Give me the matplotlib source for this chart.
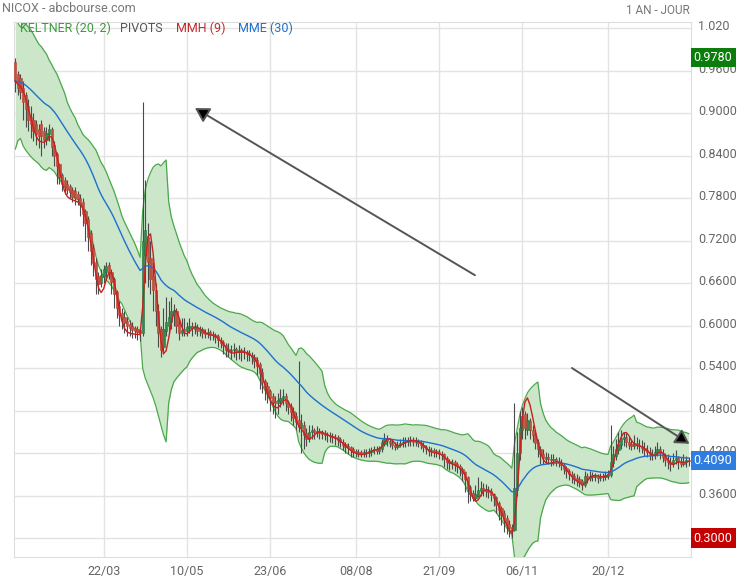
import numpy as np
import pandas as pd
import matplotlib
matplotlib.use("Agg")
import matplotlib.pyplot as plt
import matplotlib.transforms as mtransforms

plt.rcParams['font.family'] = ['Roboto', 'DejaVu Sans']

# daily candles, one year (bar index 0..259)
opens = [
    0.972, 0.955, 0.95, 0.935, 0.925, 0.91, 0.895, 0.89, 0.885, 0.878,
    0.885, 0.875, 0.862, 0.87, 0.878, 0.855, 0.842, 0.828, 0.812, 0.805,
    0.80, 0.797, 0.792, 0.79, 0.785, 0.78, 0.775, 0.762, 0.75, 0.73,
    0.71, 0.69, 0.67, 0.66, 0.668, 0.675, 0.685, 0.675, 0.665, 0.648,
    0.628, 0.618, 0.612, 0.606, 0.602, 0.60, 0.597, 0.595, 0.594, 0.59,
    0.70, 0.725, 0.695, 0.67, 0.65, 0.62, 0.595, 0.57, 0.592, 0.60,
    0.605, 0.615, 0.62, 0.602, 0.59, 0.595, 0.592, 0.596, 0.60, 0.595,
    0.598, 0.592, 0.595, 0.59, 0.588, 0.591, 0.588, 0.587, 0.585, 0.58,
    0.577, 0.573, 0.567, 0.564, 0.565, 0.567, 0.563, 0.565, 0.562, 0.563,
    0.561, 0.558, 0.556, 0.552, 0.545, 0.535, 0.522, 0.515, 0.507, 0.50,
    0.494, 0.49, 0.494, 0.497, 0.50, 0.49, 0.486, 0.48, 0.472, 0.466,
    0.455, 0.46, 0.448, 0.44, 0.45, 0.452, 0.449, 0.451, 0.449, 0.448,
    0.447, 0.445, 0.444, 0.443, 0.442, 0.44, 0.436, 0.433, 0.43, 0.428,
    0.425, 0.423, 0.422, 0.421, 0.419, 0.422, 0.42, 0.422, 0.424, 0.425,
    0.423, 0.426, 0.433, 0.44, 0.437, 0.434, 0.431, 0.429, 0.432, 0.434,
    0.436, 0.435, 0.437, 0.438, 0.435, 0.437, 0.434, 0.431, 0.428, 0.425,
    0.423, 0.424, 0.422, 0.421, 0.419, 0.418, 0.413, 0.409, 0.406, 0.408,
    0.405, 0.401, 0.398, 0.393, 0.386, 0.372, 0.364, 0.356, 0.36, 0.366,
    0.37, 0.368, 0.366, 0.366, 0.362, 0.358, 0.35, 0.342, 0.336, 0.328,
    0.32, 0.316, 0.312, 0.368, 0.42, 0.452, 0.475, 0.452, 0.465, 0.452,
    0.446, 0.435, 0.426, 0.419, 0.412, 0.415, 0.412, 0.41, 0.412, 0.409,
    0.408, 0.403, 0.399, 0.395, 0.39, 0.388, 0.385, 0.383, 0.38, 0.375,
    0.388, 0.385, 0.389, 0.386, 0.387, 0.385, 0.386, 0.386, 0.388, 0.389,
    0.406, 0.416, 0.424, 0.432, 0.44, 0.443, 0.436, 0.433, 0.43, 0.434,
    0.432, 0.43, 0.427, 0.424, 0.422, 0.419, 0.417, 0.421, 0.425, 0.42,
    0.416, 0.41, 0.408, 0.404, 0.41, 0.413, 0.407, 0.405, 0.408, 0.41,
]
highs = [
    0.978, 0.96, 0.955, 0.945, 0.93, 0.92, 0.91, 0.90, 0.89, 0.885,
    0.89, 0.88, 0.88, 0.885, 0.88, 0.86, 0.845, 0.83, 0.815, 0.81,
    0.805, 0.80, 0.795, 0.795, 0.79, 0.785, 0.78, 0.765, 0.755, 0.735,
    0.715, 0.695, 0.675, 0.68, 0.685, 0.69, 0.69, 0.68, 0.668, 0.65,
    0.635, 0.625, 0.62, 0.612, 0.608, 0.605, 0.60, 0.60, 0.598, 0.915,
    0.805, 0.745, 0.72, 0.69, 0.66, 0.63, 0.60, 0.625, 0.64, 0.635,
    0.64, 0.63, 0.625, 0.61, 0.61, 0.61, 0.605, 0.61, 0.605, 0.605,
    0.602, 0.60, 0.598, 0.595, 0.596, 0.594, 0.592, 0.59, 0.588, 0.584,
    0.58, 0.576, 0.575, 0.572, 0.575, 0.57, 0.572, 0.568, 0.57, 0.566,
    0.566, 0.562, 0.56, 0.555, 0.548, 0.54, 0.525, 0.52, 0.51, 0.505,
    0.50, 0.505, 0.51, 0.51, 0.505, 0.495, 0.49, 0.485, 0.478, 0.55,
    0.475, 0.465, 0.455, 0.46, 0.46, 0.455, 0.458, 0.455, 0.453, 0.452,
    0.45, 0.45, 0.448, 0.447, 0.445, 0.443, 0.44, 0.436, 0.434, 0.43,
    0.428, 0.426, 0.425, 0.424, 0.426, 0.425, 0.427, 0.428, 0.43, 0.43,
    0.43, 0.44, 0.448, 0.446, 0.44, 0.438, 0.436, 0.437, 0.44, 0.442,
    0.442, 0.443, 0.444, 0.442, 0.443, 0.44, 0.438, 0.435, 0.432, 0.43,
    0.428, 0.427, 0.426, 0.425, 0.423, 0.42, 0.416, 0.412, 0.412, 0.41,
    0.408, 0.404, 0.40, 0.395, 0.388, 0.375, 0.368, 0.375, 0.386, 0.38,
    0.378, 0.376, 0.374, 0.37, 0.364, 0.36, 0.352, 0.345, 0.34, 0.332,
    0.325, 0.32, 0.49, 0.45, 0.48, 0.485, 0.48, 0.476, 0.47, 0.46,
    0.45, 0.44, 0.43, 0.425, 0.422, 0.42, 0.418, 0.418, 0.415, 0.414,
    0.412, 0.406, 0.402, 0.398, 0.395, 0.392, 0.39, 0.388, 0.383, 0.395,
    0.392, 0.394, 0.393, 0.392, 0.39, 0.392, 0.392, 0.395, 0.396, 0.46,
    0.43, 0.44, 0.45, 0.452, 0.45, 0.448, 0.442, 0.44, 0.445, 0.442,
    0.44, 0.438, 0.435, 0.432, 0.428, 0.426, 0.43, 0.435, 0.43, 0.426,
    0.42, 0.418, 0.414, 0.42, 0.424, 0.416, 0.415, 0.418, 0.416, 0.414,
]
lows = [
    0.93, 0.925, 0.92, 0.89, 0.88, 0.875, 0.865, 0.86, 0.855, 0.85,
    0.84, 0.85, 0.855, 0.86, 0.84, 0.825, 0.80, 0.80, 0.79, 0.785,
    0.785, 0.78, 0.775, 0.77, 0.77, 0.755, 0.74, 0.72, 0.705, 0.685,
    0.67, 0.645, 0.645, 0.655, 0.66, 0.668, 0.665, 0.645, 0.625, 0.61,
    0.60, 0.595, 0.59, 0.585, 0.585, 0.583, 0.582, 0.58, 0.578, 0.585,
    0.66, 0.655, 0.645, 0.62, 0.60, 0.57, 0.555, 0.56, 0.585, 0.59,
    0.595, 0.60, 0.59, 0.58, 0.585, 0.585, 0.585, 0.59, 0.585, 0.588,
    0.585, 0.585, 0.582, 0.582, 0.583, 0.58, 0.58, 0.575, 0.57, 0.568,
    0.56, 0.556, 0.555, 0.553, 0.556, 0.552, 0.553, 0.55, 0.553, 0.55,
    0.55, 0.545, 0.54, 0.53, 0.51, 0.505, 0.495, 0.49, 0.48, 0.475,
    0.47, 0.475, 0.485, 0.488, 0.48, 0.475, 0.465, 0.46, 0.452, 0.45,
    0.42, 0.425, 0.43, 0.435, 0.44, 0.44, 0.442, 0.44, 0.44, 0.438,
    0.436, 0.435, 0.434, 0.432, 0.43, 0.428, 0.424, 0.42, 0.418, 0.415,
    0.415, 0.415, 0.414, 0.414, 0.415, 0.414, 0.415, 0.416, 0.418, 0.418,
    0.418, 0.422, 0.43, 0.43, 0.428, 0.425, 0.424, 0.425, 0.428, 0.428,
    0.428, 0.43, 0.43, 0.43, 0.43, 0.428, 0.425, 0.422, 0.418, 0.416,
    0.416, 0.415, 0.414, 0.412, 0.41, 0.40, 0.398, 0.396, 0.398, 0.395,
    0.392, 0.388, 0.38, 0.365, 0.35, 0.352, 0.352, 0.354, 0.358, 0.36,
    0.36, 0.358, 0.356, 0.352, 0.345, 0.335, 0.325, 0.318, 0.308, 0.305,
    0.302, 0.30, 0.31, 0.36, 0.41, 0.44, 0.44, 0.445, 0.44, 0.435,
    0.425, 0.415, 0.405, 0.405, 0.405, 0.404, 0.402, 0.403, 0.402, 0.40,
    0.396, 0.39, 0.385, 0.382, 0.378, 0.376, 0.374, 0.372, 0.368, 0.372,
    0.378, 0.38, 0.38, 0.38, 0.378, 0.38, 0.38, 0.382, 0.383, 0.386,
    0.40, 0.41, 0.418, 0.425, 0.43, 0.428, 0.425, 0.424, 0.426, 0.425,
    0.422, 0.42, 0.416, 0.414, 0.41, 0.41, 0.412, 0.416, 0.412, 0.408,
    0.402, 0.398, 0.395, 0.40, 0.405, 0.398, 0.40, 0.402, 0.40, 0.402,
]
closes = [
    0.945, 0.935, 0.93, 0.915, 0.905, 0.89, 0.885, 0.875, 0.87, 0.868,
    0.868, 0.862, 0.872, 0.878, 0.852, 0.84, 0.825, 0.81, 0.80, 0.795,
    0.792, 0.788, 0.782, 0.78, 0.778, 0.77, 0.758, 0.745, 0.725, 0.705,
    0.688, 0.665, 0.658, 0.672, 0.68, 0.684, 0.674, 0.662, 0.645, 0.625,
    0.615, 0.61, 0.604, 0.60, 0.597, 0.594, 0.592, 0.591, 0.59, 0.72,
    0.735, 0.69, 0.665, 0.65, 0.62, 0.59, 0.565, 0.595, 0.605, 0.612,
    0.62, 0.622, 0.60, 0.59, 0.594, 0.592, 0.598, 0.60, 0.596, 0.599,
    0.592, 0.595, 0.59, 0.588, 0.591, 0.587, 0.586, 0.584, 0.579, 0.576,
    0.572, 0.566, 0.564, 0.565, 0.567, 0.563, 0.565, 0.562, 0.563, 0.56,
    0.558, 0.555, 0.55, 0.543, 0.533, 0.52, 0.512, 0.505, 0.497, 0.492,
    0.49, 0.495, 0.498, 0.501, 0.49, 0.485, 0.478, 0.47, 0.464, 0.457,
    0.462, 0.445, 0.44, 0.45, 0.452, 0.449, 0.451, 0.448, 0.447, 0.446,
    0.445, 0.444, 0.442, 0.441, 0.439, 0.435, 0.432, 0.429, 0.427, 0.424,
    0.422, 0.421, 0.42, 0.419, 0.422, 0.42, 0.423, 0.424, 0.425, 0.423,
    0.427, 0.435, 0.44, 0.437, 0.434, 0.431, 0.429, 0.432, 0.434, 0.436,
    0.435, 0.437, 0.438, 0.435, 0.437, 0.434, 0.431, 0.428, 0.425, 0.423,
    0.424, 0.422, 0.421, 0.419, 0.417, 0.412, 0.408, 0.406, 0.408, 0.404,
    0.401, 0.397, 0.392, 0.384, 0.37, 0.362, 0.357, 0.362, 0.368, 0.37,
    0.368, 0.366, 0.365, 0.361, 0.356, 0.347, 0.339, 0.333, 0.325, 0.318,
    0.314, 0.31, 0.37, 0.42, 0.455, 0.472, 0.455, 0.466, 0.452, 0.445,
    0.434, 0.425, 0.418, 0.413, 0.415, 0.412, 0.41, 0.412, 0.409, 0.407,
    0.403, 0.398, 0.394, 0.39, 0.387, 0.384, 0.382, 0.379, 0.375, 0.388,
    0.385, 0.388, 0.386, 0.387, 0.385, 0.386, 0.387, 0.389, 0.39, 0.408,
    0.418, 0.426, 0.433, 0.441, 0.443, 0.436, 0.432, 0.43, 0.434, 0.432,
    0.43, 0.427, 0.424, 0.422, 0.419, 0.417, 0.422, 0.426, 0.42, 0.415,
    0.41, 0.408, 0.404, 0.41, 0.413, 0.407, 0.405, 0.408, 0.41, 0.409,
]

tick_bars = [34, 66, 98, 131, 163, 195, 228]
tick_labels = ['22/03', '10/05', '23/06', '08/08', '21/09', '06/11', '20/12']
price_ticks = [1.02, 0.96, 0.90, 0.84, 0.78, 0.72, 0.66, 0.60, 0.54, 0.48, 0.42, 0.36, 0.30]
price_labels = ['1.020', '0.9600', '0.9000', '0.8400', '0.7800', '0.7200', '0.6600',
                '0.6000', '0.5400', '0.4800', '0.4200', '0.3600', '']

# hand drawn trend lines: (bar, price) start -> end
trend_lines = [((176.8, 0.671), (69.1, 0.907)),
               ((214.1, 0.540), (259.3, 0.433))]

df = pd.DataFrame({'o': opens, 'h': highs, 'l': lows, 'c': closes})
x = np.arange(len(df))


def wma(s, n):
    return s.rolling(n, min_periods=1).apply(
        lambda a: np.dot(a, np.arange(1, len(a) + 1)) / np.arange(1, len(a) + 1).sum(), raw=True)


# indicators
mme = df.c.ewm(span=30, adjust=False).mean()
mmh = wma(2 * wma(df.c, 4) - wma(df.c, 9), 3)
prev_c = df.c.shift(1).fillna(df.o)
tr = pd.concat([df.h - df.l, (df.h - prev_c).abs(), (df.l - prev_c).abs()], axis=1).max(axis=1)
atr = tr.rolling(10, min_periods=1).mean()
mid = df.c.ewm(span=20, adjust=False).mean()
kup = mid + 2 * atr
kdn = mid - 2 * atr

fig = plt.figure(figsize=(7.4, 5.8), dpi=100)
ax = fig.add_axes([14 / 740, 23 / 580, 677 / 740, 535 / 580])

ax.fill_between(x, kdn, kup, color='#cbe6c9', lw=0, zorder=1)
ax.plot(x, kup, color='#4aa84a', lw=0.9, zorder=2)
ax.plot(x, kdn, color='#4aa84a', lw=0.9, zorder=2)

up = df.c >= df.o
ax.vlines(x, df.l, df.h, color='#4a4a4a', lw=0.8, zorder=3)
body_h = np.maximum((df.c - df.o).abs(), 0.0015)
body_b = np.minimum(df.c, df.o)
ax.bar(x[up], body_h[up], bottom=body_b[up], width=0.8, color='#2f8a4e',
       edgecolor='#23703d', lw=0.4, zorder=4)
ax.bar(x[~up], body_h[~up], bottom=body_b[~up], width=0.8, color='#b95440',
       edgecolor='#c0392b', lw=0.4, zorder=4)

ax.plot(x, mme, color='#1f6fd1', lw=1.0, zorder=5)
ax.plot(x, mmh, color='#cc1f1f', lw=1.0, zorder=5)

for (x0, y0), (x1, y1) in trend_lines:
    ax.annotate('', xy=(x1, y1), xytext=(x0, y0), annotation_clip=False,
                arrowprops=dict(arrowstyle='-|>,head_length=0.6,head_width=0.35',
                                color='#555555', lw=1.4, mutation_scale=14,
                                shrinkA=0, shrinkB=0, fc='black', ec='#555555'),
                zorder=6)

ax.set_xlim(-0.5, 259.9)
ax.set_ylim(0.2732, 1.0285)
ax.set_xticks(tick_bars)
ax.set_xticklabels(tick_labels)
ax.yaxis.tick_right()
ax.set_yticks(price_ticks)
ax.set_yticklabels(price_labels)
ax.tick_params(length=0, labelsize=9, colors='#666666')
ax.tick_params(axis='y', pad=5)
ax.tick_params(axis='x', pad=6)
# price labels sit a few pixels above their grid line
lift = mtransforms.ScaledTranslation(0, 3 / 100, fig.dpi_scale_trans)
for lab in ax.get_yticklabels():
    lab.set_transform(lab.get_transform() + lift)
ax.grid(True, color='#e3e3e3', lw=1, zorder=0)
ax.set_axisbelow(True)
for sp in ax.spines.values():
    sp.set_color('#dddddd')

# price badges on the right axis
trans = mtransforms.blended_transform_factory(ax.transAxes, ax.transData)
badges = [(max(highs), '#0b7d0b'), (closes[-1], '#2f7de1'), (min(lows), '#c40000')]
for val, col in badges:
    ax.text(1.004, val, f'{val:.4f}', transform=trans, ha='left', va='center',
            fontsize=9, color='white', zorder=10, clip_on=False,
            bbox=dict(boxstyle='square,pad=0.25', fc=col, ec='none'))

fig.text(2 / 740, 1 - 8 / 580, 'NICOX - abcbourse.com', fontsize=9, color='#777777', va='center')
fig.text(690 / 740, 1 - 10 / 580, '1 AN - JOUR', fontsize=8.5, color='#777777', va='center', ha='right')
legend_items = [(20, 'KELTNER (20, 2)', '#3c9a3c'), (120, 'PIVOTS', '#555555'),
                (176, 'MMH (9)', '#c62828'), (238, 'MME (30)', '#1f6fd1')]
for px, txt, col in legend_items:
    fig.text(px / 740, 1 - 28 / 580, txt, fontsize=9, color=col, va='center')

fig.savefig('out.png', dpi=100)
